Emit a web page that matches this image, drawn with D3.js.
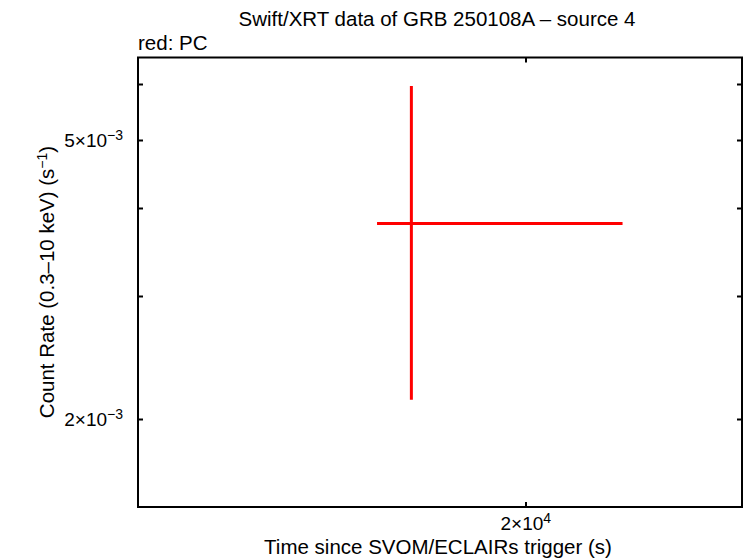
<!DOCTYPE html>
<html>
<head>
<meta charset="utf-8">
<script src="https://cdn.jsdelivr.net/npm/d3@7"></script>
<style>
  body { margin: 0; background: #fff; }
  text { font-family: "Liberation Sans", Arial, sans-serif; fill: #000; }
</style>
</head>
<body>
<div id="chart"></div>
<script>
// data: one PC bin
const times = [1.657e4];
const timeLo = [1.566e4];
const timeHi = [2.345e4];
const rates = [3.80e-3];
const rateLo = [2.13e-3];
const rateHi = [5.97e-3];

const yTicks = [2e-3, 3e-3, 4e-3, 5e-3, 6e-3];
const yTickLabels = {2e-3: ['2', '−3'], 5e-3: ['5', '−3']};
const xTicks = [2e4];
const xTickLabels = {2e4: ['2', '4']};

// params
let width = 746, height = 558;
let plotLeft = 138, plotRight = 742, plotTop = 57.5, plotBottom = 507;
let tickLen = 5;
let fontSize = 20.5;

const svg = d3.select('#chart').append('svg')
  .attr('width', width)
  .attr('height', height);

const x = d3.scaleLog().domain([1.057e4, 2.854e4]).range([plotLeft, plotRight]);
const y = d3.scaleLog().domain([1.498e-3, 6.556e-3]).range([plotBottom, plotTop]);

// ticks (all four sides)
const tg = svg.append('g').attr('stroke', '#000').attr('stroke-width', 2);
yTicks.forEach(v => {
  const yy = Math.round(y(v)) + 0.5;
  tg.append('line').attr('x1', plotLeft).attr('x2', plotLeft + tickLen).attr('y1', yy).attr('y2', yy);
  tg.append('line').attr('x1', plotRight).attr('x2', plotRight - tickLen).attr('y1', yy).attr('y2', yy);
});
xTicks.forEach(v => {
  const xx = Math.round(x(v));
  tg.append('line').attr('x1', xx).attr('x2', xx).attr('y1', plotBottom).attr('y2', plotBottom - tickLen);
  tg.append('line').attr('x1', xx).attr('x2', xx).attr('y1', plotTop).attr('y2', plotTop + tickLen);
});

// tick labels
function sciLabel(g, parts) {
  g.append('tspan').text(parts[0] + '×10');
  g.append('tspan').attr('dy', -7).attr('font-size', 14).text(parts[1]);
}
Object.keys(yTickLabels).forEach(k => {
  const t = svg.append('text')
    .attr('x', 123).attr('y', y(+k) + 7)
    .attr('text-anchor', 'end').attr('font-size', 19);
  sciLabel(t, yTickLabels[k]);
});
Object.keys(xTickLabels).forEach(k => {
  const t = svg.append('text')
    .attr('x', x(+k)).attr('y', 530)
    .attr('text-anchor', 'middle').attr('font-size', 19);
  sciLabel(t, xTickLabels[k]);
});

// frame
svg.append('rect')
  .attr('x', plotLeft).attr('y', plotTop)
  .attr('width', plotRight - plotLeft).attr('height', plotBottom - plotTop)
  .attr('fill', 'none').attr('stroke', '#000').attr('stroke-width', 2);

// error bars
const eb = svg.append('g').attr('stroke', '#ff0000').attr('stroke-width', 3);
times.forEach((t, i) => {
  eb.append('line')
    .attr('x1', x(timeLo[i])).attr('x2', x(timeHi[i]))
    .attr('y1', y(rates[i])).attr('y2', y(rates[i]));
  eb.append('line')
    .attr('x1', x(t)).attr('x2', x(t))
    .attr('y1', y(rateLo[i])).attr('y2', y(rateHi[i]));
});

// labels
svg.append('text')
  .attr('x', 437).attr('y', 26)
  .attr('text-anchor', 'middle').attr('font-size', fontSize)
  .text('Swift/XRT data of GRB 250108A – source 4');
svg.append('text')
  .attr('x', 138).attr('y', 50)
  .attr('font-size', fontSize)
  .text('red: PC');
svg.append('text')
  .attr('x', 438).attr('y', 554)
  .attr('text-anchor', 'middle').attr('font-size', fontSize)
  .text('Time since SVOM/ECLAIRs trigger (s)');

const yl = svg.append('text')
  .attr('transform', 'translate(54,282) rotate(-90)')
  .attr('text-anchor', 'middle').attr('font-size', fontSize);
yl.append('tspan').text('Count Rate (0.3–10 keV) (s');
yl.append('tspan').attr('dy', -7).attr('font-size', 14).text('−1');
yl.append('tspan').attr('dy', 7).text(')');
</script>
</body>
</html>
